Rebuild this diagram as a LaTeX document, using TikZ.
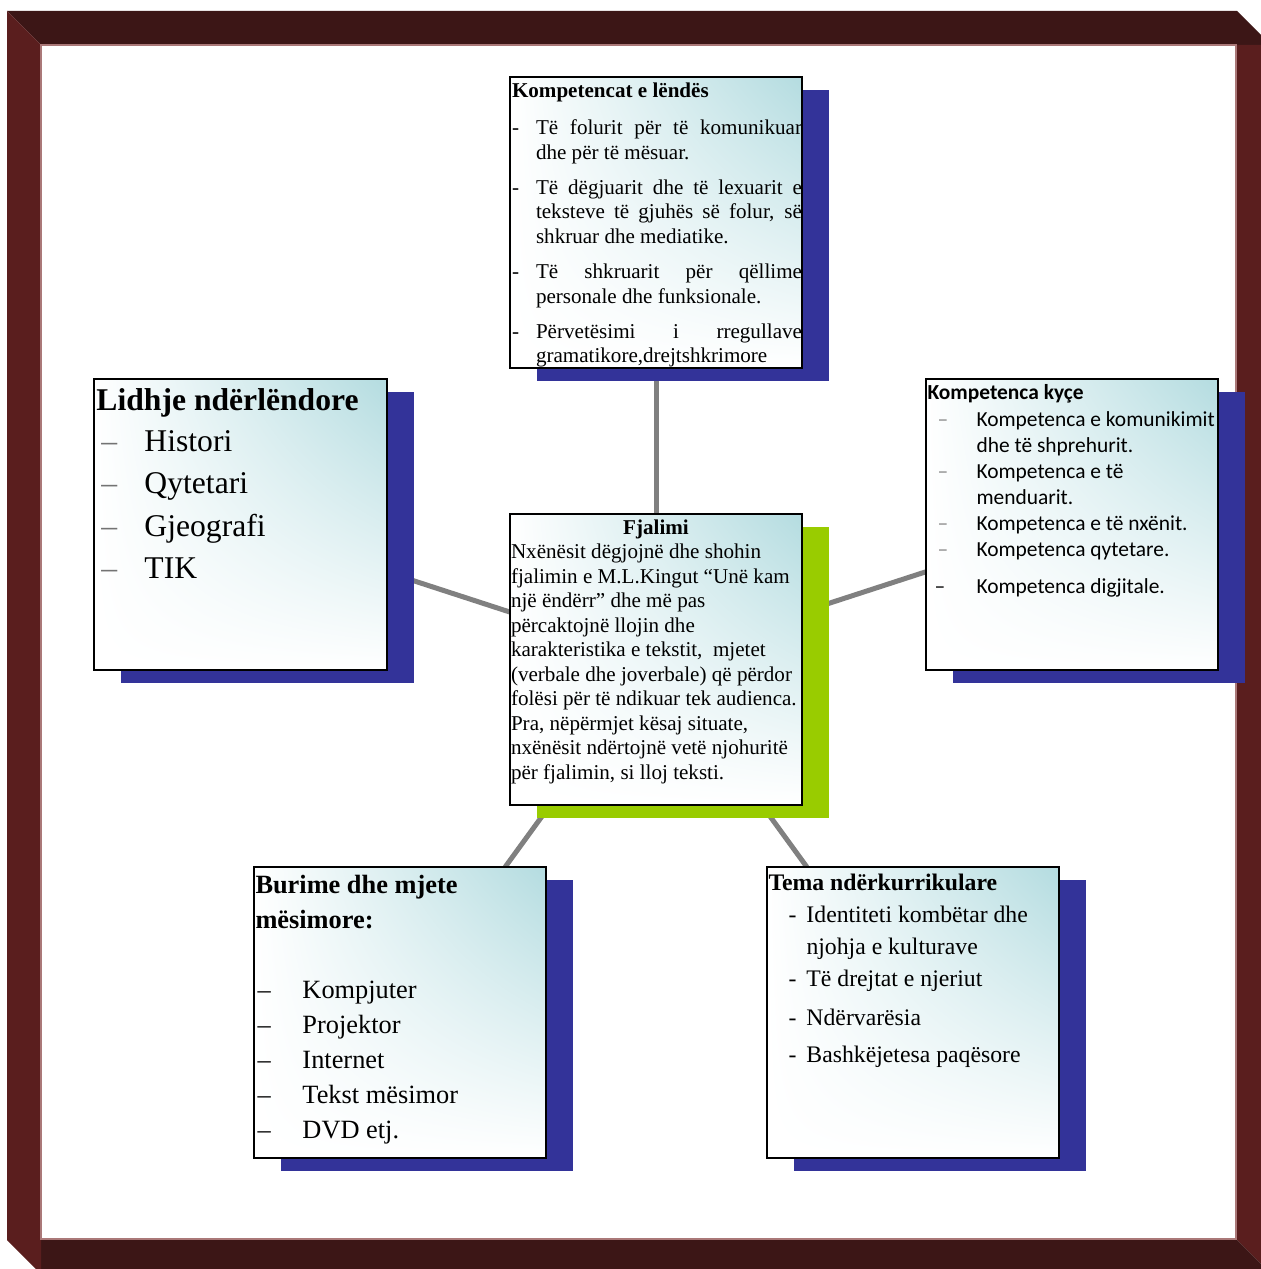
\documentclass[tikz,border=0pt]{standalone}
\usepackage{fontspec}
\setmainfont{Liberation Serif}
\newfontfamily\calibri{Carlito}
\usetikzlibrary{shadows,shadings,backgrounds}
\definecolor{frametop}{RGB}{60,22,22}
\definecolor{frameside}{RGB}{90,30,30}
\definecolor{frameedge}{RGB}{170,120,120}
\definecolor{boxteal}{RGB}{180,220,224}
\definecolor{shadowblue}{RGB}{51,51,153}
\definecolor{shadowgreen}{RGB}{153,204,0}
\definecolor{linkgray}{RGB}{128,128,128}
% one row of a list: indent, dash, text
\newcommand{\row}[3]{\makebox[#1][l]{#2}#3\par}
\newcommand{\boxtext}[1]{\parbox[c][58.2mm][t]{58.4mm}{#1}}

\begin{document}
\begin{tikzpicture}[x=0.2mm,y=-0.2mm,line join=miter,
  box/.style={draw=black,line width=0.4mm,inner sep=0pt,outer sep=0pt,
    upper right=boxteal,upper left=white,lower left=white,lower right=white},
  bluebox/.style={box,general shadow={fill=shadowblue,shadow xshift=5.4mm,shadow yshift=-2.6mm}},
  greenbox/.style={box,general shadow={fill=shadowgreen,shadow xshift=5.4mm,shadow yshift=-2.6mm}},
  link/.style={draw=linkgray,line width=1mm}]
\useasboundingbox (0,0) rectangle (1260,1269);
% frame
\fill[frametop] (7,11) -- (1237,11) -- (1271,45) -- (41,45) -- cycle;
\fill[frameside] (1236,45) -- (1271,45) -- (1271,1274) -- (1236,1239) -- cycle;
\fill[frametop] (41,1239) -- (1236,1239) -- (1271,1274) -- (41,1274) -- cycle;
\fill[frameside] (7,11) -- (41,45) -- (41,1274) -- (7,1240) -- cycle;
\draw[frameedge,line width=0.4mm] (41,45) rectangle (1236,1239);

\node[bluebox] (kompLendes) at (656,222.5) {\boxtext{\fontsize{12}{4.9mm}\selectfont
\rule{0pt}{4.2mm}\hspace*{0.4mm}\textbf{Kompetencat e lëndës}\par\vspace{2.5mm}
\row{5.2mm}{\hspace*{0.4mm}-}{\makebox[53.2mm][s]{Të folurit për të komunikuar}}
\row{5.2mm}{}{dhe për të mësuar.}\vspace{2.1mm}
\row{5.2mm}{\hspace*{0.4mm}-}{\makebox[53.2mm][s]{Të dëgjuarit dhe të lexuarit e}}
\row{5.2mm}{}{\makebox[53.2mm][s]{teksteve të gjuhës së folur, së}}
\row{5.2mm}{}{shkruar dhe mediatike.}\vspace{2.1mm}
\row{5.2mm}{\hspace*{0.4mm}-}{\makebox[53.2mm][s]{Të shkruarit për qëllime}}
\row{5.2mm}{}{personale dhe funksionale.}\vspace{2.1mm}
\row{5.2mm}{\hspace*{0.4mm}-}{\makebox[53.2mm][s]{Përvetësimi i rregullave}}
\row{5.2mm}{}{gramatikore,drejtshkrimore}}};

\node[greenbox] (fjalimi) at (656,659.5) {\boxtext{\fontsize{12}{4.9mm}\selectfont
\rule{0pt}{4.0mm}\hfill\textbf{Fjalimi}\hfill\null\par
\hspace*{0.2mm}Nxënësit dëgjojnë dhe shohin\par
\hspace*{0.2mm}fjalimin e M.L.Kingut “Unë kam\par
\hspace*{0.2mm}një ëndërr” dhe më pas\par
\hspace*{0.2mm}përcaktojnë llojin dhe\par
\hspace*{0.2mm}karakteristika e tekstit,\ \ mjetet\par
\hspace*{0.2mm}(verbale dhe joverbale) që përdor\par
\hspace*{0.2mm}folësi për të ndikuar tek audienca.\par
\hspace*{0.2mm}Pra, nëpërmjet kësaj situate,\par
\hspace*{0.2mm}nxënësit ndërtojnë vetë njohuritë\par
\hspace*{0.2mm}për fjalimin, si lloj teksti.}};

\node[bluebox] (lidhje) at (240.5,524.5) {\boxtext{\fontsize{18}{8.5mm}\selectfont
\rule{0pt}{6.2mm}\hspace*{0.4mm}\textbf{Lidhje ndërlëndore}\par\vspace{-0.3mm}
\row{10mm}{\hspace*{1.4mm}\textcolor{black!55}{\textendash}}{Histori}
\row{10mm}{\hspace*{1.4mm}\textcolor{black!55}{\textendash}}{Qytetari}
\row{10mm}{\hspace*{1.4mm}\textcolor{black!55}{\textendash}}{Gjeografi}
\row{10mm}{\hspace*{1.4mm}\textcolor{black!55}{\textendash}}{TIK}}};

\node[bluebox] (kyce) at (1071.5,524.5) {\boxtext{\calibri\fontsize{12.2}{5.2mm}\selectfont
\rule{0pt}{4.0mm}\hspace*{0.4mm}\textbf{Kompetenca kyçe}\par\vspace{0.2mm}
\row{10.2mm}{\hspace*{2.4mm}\textcolor{black!45}{\textendash}}{Kompetenca e komunikimit}
\row{10.2mm}{}{dhe të shprehurit.}
\row{10.2mm}{\hspace*{2.4mm}\textcolor{black!45}{\textendash}}{Kompetenca e të}
\row{10.2mm}{}{menduarit.}
\row{10.2mm}{\hspace*{2.4mm}\textcolor{black!45}{\textendash}}{Kompetenca e të nxënit.}
\row{10.2mm}{\hspace*{2.4mm}\textcolor{black!45}{\textendash}}{Kompetenca qytetare.}\vspace{2.2mm}
\row{10.2mm}{\hspace*{1.8mm}\textendash}{Kompetenca digjitale.}}};

\node[bluebox] (burime) at (399.5,1012.5) {\boxtext{\fontsize{15}{7mm}\selectfont
\rule{0pt}{5.2mm}\hspace*{0.4mm}\textbf{Burime dhe mjete}\par
\hspace*{0.4mm}\textbf{mësimore:}\par\vspace{7mm}
\row{9.8mm}{\hspace*{0.8mm}\textendash}{Kompjuter}
\row{9.8mm}{\hspace*{0.8mm}\textendash}{Projektor}
\row{9.8mm}{\hspace*{0.8mm}\textendash}{Internet}
\row{9.8mm}{\hspace*{0.8mm}\textendash}{Tekst mësimor}
\row{9.8mm}{\hspace*{0.8mm}\textendash}{DVD etj.}}};

\node[bluebox] (tema) at (912.5,1012.5) {\boxtext{\fontsize{13.5}{6.4mm}\selectfont
\rule{0pt}{4.6mm}\hspace*{0.4mm}\textbf{Tema ndërkurrikulare}\par
\row{8mm}{\hspace*{4.4mm}-}{Identiteti kombëtar dhe}
\row{8mm}{}{njohja e kulturave}
\row{8mm}{\hspace*{4.4mm}-}{Të drejtat e njeriut}\vspace{1.4mm}
\row{8mm}{\hspace*{4.4mm}-}{Ndërvarësia}\vspace{1mm}
\row{8mm}{\hspace*{4.4mm}-}{Bashkëjetesa paqësore}}};

\begin{scope}[on background layer]
\fill[white] (0,0) rectangle (1260,1269);
\draw[link] (fjalimi) -- (kompLendes);
\draw[link] (fjalimi) -- (lidhje);
\draw[link] (fjalimi) -- (kyce);
\draw[link] (fjalimi) -- (burime);
\draw[link] (fjalimi) -- (tema);
\end{scope}
\end{tikzpicture}
\end{document}
